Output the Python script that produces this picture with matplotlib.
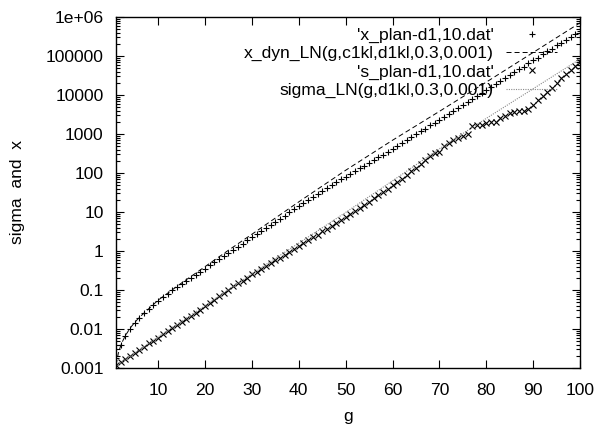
import numpy as np
import matplotlib
matplotlib.use("Agg")
import matplotlib.pyplot as plt
from matplotlib.ticker import LogLocator, NullFormatter, FixedLocator

#### Data (log10 of the values)

g = list(range(1, 101))

x_plan_log = [-2.74, -2.42, -2.19, -2.00, -1.85, -1.72, -1.60, -1.49, -1.38, -1.28,
              -1.19, -1.10, -1.01, -0.93, -0.85, -0.77, -0.69, -0.61, -0.53, -0.45,
              -0.37, -0.29, -0.21, -0.13, -0.05, 0.03, 0.11, 0.19, 0.27, 0.35,
              0.43, 0.51, 0.59, 0.67, 0.75, 0.83, 0.91, 0.99, 1.07, 1.15,
              1.23, 1.30, 1.38, 1.45, 1.53, 1.61, 1.68, 1.76, 1.84, 1.91,
              1.98, 2.05, 2.12, 2.19, 2.26, 2.33, 2.40, 2.47, 2.55, 2.62,
              2.69, 2.77, 2.84, 2.92, 2.99, 3.07, 3.14, 3.22, 3.29, 3.37,
              3.44, 3.52, 3.59, 3.67, 3.74, 3.82, 3.89, 3.97, 4.04, 4.12,
              4.20, 4.27, 4.35, 4.43, 4.50, 4.58, 4.66, 4.73, 4.81, 4.89,
              4.96, 5.04, 5.12, 5.19, 5.27, 5.34, 5.42, 5.49, 5.57, 5.64]

s_plan_log = [-2.92, -2.85, -2.77, -2.69, -2.61, -2.53, -2.45, -2.37, -2.30, -2.22,
              -2.14, -2.06, -1.98, -1.91, -1.83, -1.75, -1.67, -1.59, -1.50, -1.42,
              -1.33, -1.25, -1.16, -1.07, -0.99, -0.91, -0.83, -0.76, -0.68, -0.60,
              -0.53, -0.46, -0.38, -0.31, -0.24, -0.17, -0.10, -0.02, 0.05, 0.12,
              0.20, 0.27, 0.35, 0.42, 0.50, 0.57, 0.65, 0.72, 0.80, 0.87,
              0.95, 1.03, 1.11, 1.18, 1.26, 1.35, 1.43, 1.51, 1.60, 1.68,
              1.77, 1.85, 1.95, 2.05, 2.14, 2.24, 2.33, 2.44, 2.50, 2.55,
              2.68, 2.78, 2.84, 2.90, 2.95, 3.00, 3.20, 3.24, 3.22, 3.28,
              3.30, 3.32, 3.40, 3.47, 3.55, 3.56, 3.58, 3.60, 3.64, 3.75,
              3.86, 3.97, 4.08, 4.19, 4.30, 4.43, 4.55, 4.65, 4.75, 4.85]

# model curves
dyn_g = [1, 1.5, 2, 2.5, 3, 4, 5, 6, 8, 10, 15, 20, 25, 30, 40, 50, 60, 70, 80, 90, 100]
dyn_log = [-2.92, -2.62, -2.43, -2.29, -2.17, -1.98, -1.83, -1.70, -1.48, -1.26,
           -0.82, -0.40, 0.02, 0.43, 1.26, 2.07, 2.84, 3.58, 4.33, 5.09, 5.85]

sig_g = [1, 10, 20, 30, 40, 50, 60, 70, 80, 90, 100]
sig_log = [-2.95, -2.20, -1.40, -0.58, 0.20, 0.99, 1.80, 2.62, 3.40, 4.16, 4.92]

labels = ["'x_plan-d1,10.dat'", "x_dyn_LN(g,c1kl,d1kl,0.3,0.001)",
          "'s_plan-d1,10.dat'", "sigma_LN(g,d1kl,0.3,0.001)"]

ytick_vals = [1e-3, 1e-2, 1e-1, 1, 10, 100, 1000, 10000, 100000, 1e6]
ytick_labels = ["0.001", "0.01", "0.1", "1", "10", "100", "1000", "10000", "100000", "1e+06"]
xtick_vals = [10, 20, 30, 40, 50, 60, 70, 80, 90, 100]

#### Plot

plt.rcParams['font.family'] = ['Liberation Sans', 'DejaVu Sans']
plt.rcParams['font.size'] = 12.6
plt.rcParams['lines.scale_dashes'] = False

fig = plt.figure(figsize=(5.96, 4.25), dpi=100)
ax = fig.add_axes([116/596, 1 - 368/425, 464/596, 351/425])

ax.plot(g, 10**np.array(x_plan_log), linestyle='none', marker='+', markersize=5,
        markeredgewidth=0.8, color='black', label=labels[0])
ax.plot(dyn_g, 10**np.array(dyn_log), color='black', linewidth=0.7,
        dashes=(3.6, 2.2), label=labels[1])
ax.plot(g, 10**np.array(s_plan_log), linestyle='none', marker='x', markersize=4.5,
        markeredgewidth=0.8, color='black', label=labels[2])
ax.plot(sig_g, 10**np.array(sig_log), color='#8a8a8a', linewidth=0.8,
        dashes=(0.8, 0.9), label=labels[3])

ax.set_yscale('log')
ax.set_xlim(1, 100)
ax.set_ylim(1e-3, 1e6)

ax.yaxis.set_major_locator(FixedLocator(ytick_vals))
ax.set_yticklabels(ytick_labels)
ax.yaxis.set_minor_locator(LogLocator(base=10, subs=np.arange(2, 10), numticks=20))
ax.yaxis.set_minor_formatter(NullFormatter())
ax.set_xticks(xtick_vals)

ax.tick_params(which='both', direction='in', top=True, right=True, width=0.8)
ax.tick_params(which='major', length=6)
ax.tick_params(which='minor', length=3)
ax.tick_params(axis='y', pad=9)
ax.tick_params(axis='x', pad=11)

for sp in ax.spines.values():
    sp.set_linewidth(1.0)

ax.set_xlabel('g', labelpad=8)
ax.set_ylabel('sigma  and  x', labelpad=15)

leg = ax.legend(loc='upper right', bbox_to_anchor=(0.9504, 0.97), frameon=False,
                markerfirst=False, numpoints=1, handlelength=2.9, handletextpad=0.7,
                labelspacing=0.17, borderpad=0, borderaxespad=0)
for col in leg._legend_handle_box.get_children():
    col.align = 'right'

fig.savefig('out.png', dpi=100)
